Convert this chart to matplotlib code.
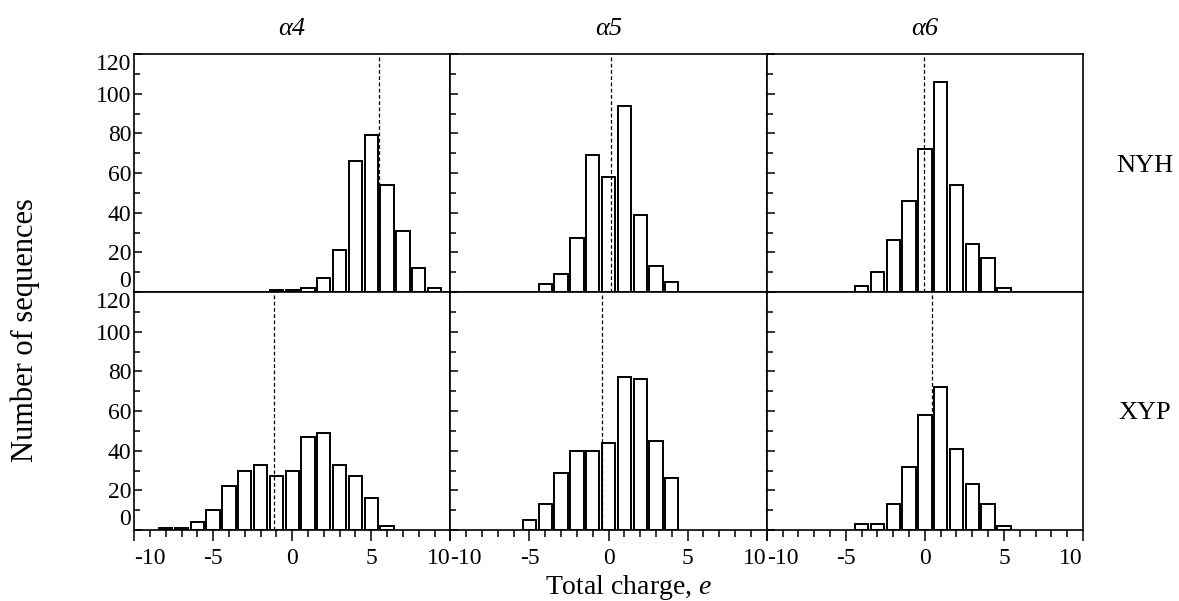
import numpy as np
import matplotlib.pyplot as plt
from matplotlib.ticker import MultipleLocator

plt.rcParams['font.family'] = ['Liberation Serif', 'DejaVu Serif']
plt.rcParams['mathtext.fontset'] = 'custom'
plt.rcParams['mathtext.rm'] = 'Liberation Serif'
plt.rcParams['mathtext.it'] = 'Liberation Serif:italic'
plt.rcParams['axes.unicode_minus'] = False

# total charge bins and counts
nyh_a4_x = [-1, 0, 1, 2, 3, 4, 5, 6, 7, 8, 9]
nyh_a4_n = [1, 1, 2, 7, 21, 66, 79, 54, 31, 12, 2]
nyh_a5_x = [-4, -3, -2, -1, 0, 1, 2, 3, 4]
nyh_a5_n = [4, 9, 27, 69, 58, 94, 39, 13, 5]
nyh_a6_x = [-4, -3, -2, -1, 0, 1, 2, 3, 4, 5]
nyh_a6_n = [3, 10, 26, 46, 72, 106, 54, 24, 17, 2]

xyp_a4_x = [-8, -7, -6, -5, -4, -3, -2, -1, 0, 1, 2, 3, 4, 5, 6]
xyp_a4_n = [1, 1, 4, 10, 22, 30, 33, 27, 30, 47, 49, 33, 27, 16, 2]
xyp_a5_x = [-5, -4, -3, -2, -1, 0, 1, 2, 3, 4]
xyp_a5_n = [5, 13, 29, 40, 40, 44, 77, 76, 45, 26]
xyp_a6_x = [-4, -3, -2, -1, 0, 1, 2, 3, 4, 5]
xyp_a6_n = [3, 3, 13, 32, 58, 72, 41, 23, 13, 2]

# mean charge (dashed lines)
nyh_mean = [5.5, 0.17, -0.06]
xyp_mean = [-1.15, -0.4, 0.44]

columns = ['α4', 'α5', 'α6']
rows = ['NYH', 'XYP']
xtick_vals = [-10, -5, 0, 5, 10]

data = [[(nyh_a4_x, nyh_a4_n), (nyh_a5_x, nyh_a5_n), (nyh_a6_x, nyh_a6_n)],
        [(xyp_a4_x, xyp_a4_n), (xyp_a5_x, xyp_a5_n), (xyp_a6_x, xyp_a6_n)]]
means = [nyh_mean, xyp_mean]

fig, axes = plt.subplots(2, 3, figsize=(11.79, 6.01), dpi=100, sharex=True, sharey=True)
fig.subplots_adjust(left=0.1137, right=0.9186, top=0.9101, bottom=0.1181, wspace=0, hspace=0)

for i in range(2):
    for j in range(3):
        ax = axes[i, j]
        x, n = data[i][j]
        ax.bar(x, n, width=0.84, color='white', edgecolor='black', linewidth=1.4, zorder=2)
        ax.axvline(means[i][j], color='black', linestyle=(0, (3, 2)), linewidth=0.9, zorder=3)
        ax.set_xlim(-10, 10)
        ax.set_ylim(0, 120)
        for s in ax.spines.values():
            s.set_linewidth(1.2)
        ax.yaxis.set_major_locator(MultipleLocator(20))
        ax.yaxis.set_minor_locator(MultipleLocator(10))
        ax.tick_params(axis='y', which='major', direction='in', length=6, width=1.1,
                       labelsize=17, pad=2, right=False)
        ax.tick_params(axis='y', which='minor', direction='in', length=4, width=1.1, right=False)
        ax.set_xticks(xtick_vals)
        ax.xaxis.set_minor_locator(MultipleLocator(1))
        if i == 1:
            ax.tick_params(axis='x', which='major', direction='out', length=8, width=1.1,
                           labelsize=17, pad=5)
            ax.tick_params(axis='x', which='minor', direction='out', length=5, width=1.1)
        else:
            ax.tick_params(axis='x', which='both', bottom=False)
        if i == 0:
            ax.set_title(columns[j], fontsize=19, style='italic', pad=14)

for i in range(2):
    for j in range(3):
        axes[i, j].tick_params(axis='x', labelbottom=(i == 1))

# keep end labels inside each panel
fig.canvas.draw()
for i in range(2):
    for lab in axes[i, 0].get_yticklabels():
        if lab.get_text() == '120':
            lab.set_verticalalignment('top')
        elif lab.get_text() == '0':
            lab.set_verticalalignment('bottom')
for j in range(3):
    for lab in axes[1, j].get_xticklabels():
        if lab.get_text() == '-10':
            lab.set_horizontalalignment('left')
        elif lab.get_text() == '10':
            lab.set_horizontalalignment('right')

for i, r in enumerate(rows):
    pos = axes[i, 2].get_position()
    fig.text(0.971, pos.y0 + pos.height * (0.53 if i == 0 else 0.49), r, fontsize=19,
             ha='center', va='center')

fig.text(0.533, 0.022, 'Total charge, $e$', fontsize=20, ha='center', va='center')
fig.text(0.021, 0.45, 'Number of sequences', fontsize=22, rotation=90, ha='center', va='center')

fig.savefig('out.png', dpi=100)
